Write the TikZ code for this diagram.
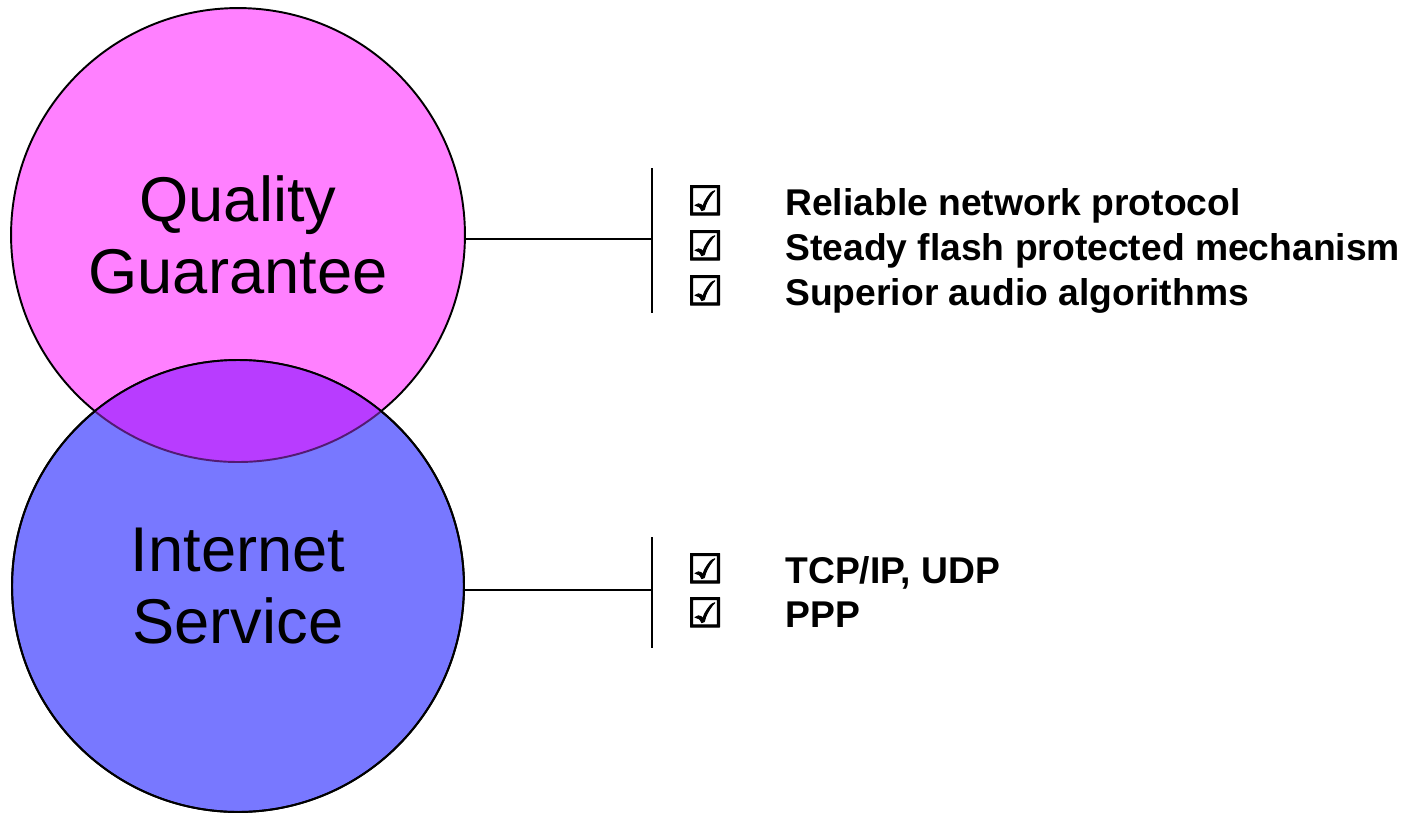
\documentclass[tikz,border=0pt]{standalone}
\usepackage{fontspec}
\setmainfont{Liberation Sans}
\newfontfamily\symfont[FakeBold=2.5]{DejaVu Sans}
\definecolor{qualitypink}{HTML}{FF80FF}
\definecolor{internetblue}{HTML}{7878FF}
\definecolor{overlappurple}{HTML}{B83CFF}
\begin{document}
\begin{tikzpicture}[x=0.02cm, y=0.02cm,
		bubble/.style={circle, draw=black, line width=1.1pt, inner sep=0pt, align=center, font=\fontsize{36}{41}\selectfont},
		tick/.style={anchor=base, inner sep=0pt, font=\symfont\fontsize{23}{26}\selectfont},
		item/.style={anchor=base west, inner sep=0pt, font=\bfseries\fontsize{21.2}{25}\selectfont},
		bar/.style={line width=0.85pt}]
		\useasboundingbox (0,0) rectangle (1406,-812);
		% the two circles
		\node [bubble, fill=qualitypink, minimum size=9.08cm] (quality) at (238,-235) {Quality\\Guarantee};
		\node [bubble, fill=internetblue, minimum size=9.04cm] (internet) at (238,-586) {Internet\\Service};
		% overlap
		\begin{scope}
			\clip (internet.center) circle (226);
			\fill [overlappurple] (quality.center) circle (227);
			\draw [overlappurple!45!black, line width=1.1pt] (quality.center) circle (227);
		\end{scope}
		\draw [black, line width=1.1pt] (internet.center) circle (226);
		% brackets
		\coordinate (qtop) at (652,-168);
		\coordinate (qbot) at (652,-313);
		\draw [bar] (quality.-1.2) -- (quality.-1.2 -| qtop);
		\draw [bar] (qtop) -- (qbot);
		\coordinate (itop) at (652,-537);
		\coordinate (ibot) at (652,-648);
		\draw [bar] (internet.-1.5) -- (internet.-1.5 -| itop);
		\draw [bar] (itop) -- (ibot);
		% quality items
		\node [tick] (qtick1) at (705,-215) {☑};
		\node [item] (qitem1) at (785,-215) {Reliable network protocol};
		\node [tick] (qtick2) at (705,-260) {☑};
		\node [item] (qitem2) at (785,-260) {Steady flash protected mechanism};
		\node [tick] (qtick3) at (705,-305) {☑};
		\node [item] (qitem3) at (785,-305) {Superior audio algorithms};
		% internet items
		\node [tick] (itick1) at (705,-583) {☑};
		\node [item] (iitem1) at (785,-583) {TCP/IP, UDP};
		\node [tick] (itick2) at (705,-627) {☑};
		\node [item] (iitem2) at (785,-627) {PPP};
\end{tikzpicture}
\end{document}
